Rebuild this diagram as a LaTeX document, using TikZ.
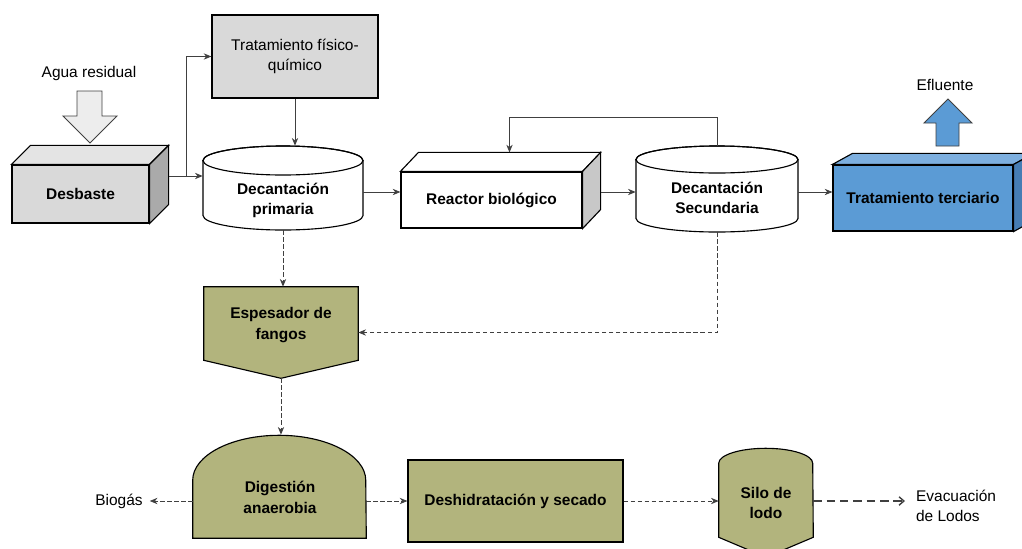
\documentclass[tikz,border=0pt]{standalone}
\usepackage{fontspec}
\setmainfont{Liberation Sans}
\usetikzlibrary{arrows.meta, calc}
\definecolor{linegray}{RGB}{64, 64, 64}
\definecolor{grayfront}{RGB}{217, 217, 217}
\definecolor{graytop}{RGB}{228, 228, 228}
\definecolor{grayside}{RGB}{170, 170, 170}
\definecolor{whiteside}{RGB}{200, 200, 200}
\definecolor{arrowgray}{RGB}{237, 237, 237}
\definecolor{bluefront}{RGB}{91, 155, 213}
\definecolor{bluetop}{RGB}{125, 175, 223}
\definecolor{blueside}{RGB}{70, 125, 180}
\definecolor{sludgegreen}{RGB}{178, 180, 125}

\begin{document}
\begin{tikzpicture}[x=0.025cm, y=-0.025cm,
  txt/.style={font=\fontsize{11}{14.5}\selectfont, align=center, inner sep=2pt},
  boldtxt/.style={txt, font=\fontsize{11}{14.5}\selectfont\bfseries},
  face/.style={draw=black, line width=0.8pt},
  flow/.style={-{Stealth[length=5.5pt, width=4.5pt]}, draw=linegray, line width=0.6pt},
  sludge/.style={flow, dash pattern=on 3pt off 2pt},
  evacline/.style={-{Straight Barb[length=3.5pt, width=6pt]}, draw=linegray, line width=1pt, dash pattern=on 6pt off 3.5pt}]
  \useasboundingbox (0,0) rectangle (1022,548);

  % Entrada de agua
  \node[txt] (agua) at (89,73) {Agua residual};
  \filldraw[fill=arrowgray, draw=linegray, line width=0.7pt] (77,91) -- (102,91) -- (102,116) -- (117,116) -- (90,143) -- (63,116) -- (77,116) -- cycle;

  % Desbaste
  \node[boldtxt, face, fill=grayfront, minimum width=3.425cm, minimum height=1.45cm] (desbaste) at (80.5,194) {Desbaste};
  \filldraw[face, fill=graytop] (desbaste.north west) -- ++(19,-19) -- ([shift={(19,-19)}]desbaste.north east) -- (desbaste.north east) -- cycle;
  \filldraw[face, fill=grayside] (desbaste.north east) -- ++(19,-19) -- ([shift={(19,-19)}]desbaste.south east) -- (desbaste.south east) -- cycle;

  % Tratamiento fisico-quimico
  \node[txt, face, fill=grayfront, minimum width=4.15cm, minimum height=2.075cm] (fisico) at (295,56.5) {Tratamiento físico-\\químico};

  % Decantacion primaria
  \filldraw[face, fill=white] (203,160.5) -- (203,215.5) arc[start angle=180, end angle=360, x radius=2cm, y radius=0.3625cm] -- (363,160.5) arc[start angle=0, end angle=180, x radius=2cm, y radius=0.3625cm] -- cycle;
  \draw[face] (283,160.5) ellipse[x radius=2cm, y radius=0.3625cm];
  \node[minimum width=4cm, minimum height=2.1cm, inner sep=0pt] (prim) at (283,188) {};
  \node[boldtxt] (primtxt) at (283,200.5) {Decantación\\primaria};

  % Reactor biologico
  \node[boldtxt, face, fill=white, minimum width=4.525cm, minimum height=1.4cm] (reactor) at (491.5,200) {Reactor biológico};
  \filldraw[face, fill=white] (reactor.north west) -- ++(18,-19) -- ([shift={(18,-19)}]reactor.north east) -- (reactor.north east) -- cycle;
  \filldraw[face, fill=whiteside] (reactor.north east) -- ++(18,-19) -- ([shift={(18,-19)}]reactor.south east) -- (reactor.south east) -- cycle;

  % Decantacion secundaria
  \filldraw[face, fill=white] (636,159.5) -- (636,218.5) arc[start angle=180, end angle=360, x radius=2.025cm, y radius=0.3375cm] -- (798,159.5) arc[start angle=0, end angle=180, x radius=2.025cm, y radius=0.3375cm] -- cycle;
  \draw[face] (717,159.5) ellipse[x radius=2.025cm, y radius=0.3375cm];
  \node[minimum width=4.05cm, minimum height=2.15cm, inner sep=0pt] (secund) at (717,189) {};
  \node[boldtxt] (secundtxt) at (717,198) {Decantación\\Secundaria};

  % Tratamiento terciario
  \node[boldtxt, face, fill=bluefront, minimum width=4.5cm, minimum height=1.65cm] (terciario) at (923,198) {Tratamiento terciario};
  \filldraw[face, fill=bluetop] (terciario.north west) -- ++(20,-11) -- ([shift={(20,-11)}]terciario.north east) -- (terciario.north east) -- cycle;
  \filldraw[face, fill=blueside] (terciario.north east) -- ++(20,-11) -- ([shift={(20,-11)}]terciario.south east) -- (terciario.south east) -- cycle;

  % Efluente
  \node[txt] (efluente) at (945,85) {Efluente};
  \filldraw[fill=bluefront, draw=linegray, line width=0.7pt] (936,146) -- (936,123) -- (924,123) -- (948,99) -- (972,123) -- (959,123) -- (959,146) -- cycle;

  % Linea de agua
  \coordinate (split) at (186,176);
  \coordinate (mainline) at (0,192);
  \draw[flow] ($(desbaste.east |- split)+(19,0)$) -- (split -| prim.west);
  \draw[flow] (split) |- (fisico.west);
  \draw[flow] (fisico.south) -- (fisico.south |- prim.north);
  \draw[flow] (prim.east |- mainline) -- (reactor.west |- mainline);
  \draw[flow] ($(reactor.east |- mainline)+(18,0)$) -- (secund.west |- mainline);
  \draw[flow] (secund.east |- mainline) -- (terciario.west |- mainline);
  \draw[flow] (secund.north) -- ++(0,-28) -| ($(reactor.north)+(18,-19)$);

  % Espesador de fangos
  \node[minimum width=3.85cm, minimum height=2.275cm, inner sep=0pt] (espesador) at (281,332.5) {};
  \filldraw[face, fill=sludgegreen] (espesador.north west) -- (espesador.north east) -- ($(espesador.south east)+(0,-18)$) -- (espesador.south) -- ($(espesador.south west)+(0,-18)$) -- cycle;
  \node[boldtxt] (espesadortxt) at (281,325) {Espesador de\\fangos};

  % Digestion anaerobia
  \node[minimum width=4.325cm, minimum height=2.575cm, inner sep=0pt] (digestion) at (279.5,486.5) {};
  \filldraw[face, fill=sludgegreen] (digestion.south west) -- ($(digestion.south west)+(0,-58)$) arc[start angle=180, end angle=0, x radius=2.1625cm, y radius=1.125cm] -- (digestion.south east) -- cycle;
  \node[boldtxt] (digestiontxt) at (280,497.5) {Digestión\\anaerobia};
  \node[txt] (biogas) at (119,501) {Biogás};

  % Deshidratacion y secado
  \node[boldtxt, face, fill=sludgegreen, minimum width=5.375cm, minimum height=2.05cm] (deshid) at (515.5,501) {Deshidratación y secado};

  % Silo de lodo
  \node[minimum width=2.35cm, minimum height=2.225cm, inner sep=0pt] (silo) at (766,492.5) {};
  \filldraw[face, fill=sludgegreen] (silo.south west) -- ($(silo.south west)+(0,-74)$) arc[start angle=180, end angle=0, x radius=1.175cm, y radius=0.375cm] -- (silo.south east) -- ($(silo.south)+(0,20)$) -- cycle;
  \node[boldtxt] (silotxt) at (766,503) {Silo de\\lodo};
  \node[txt, anchor=west, align=left] (evac) at (913,506) {Evacuación\\de Lodos};

  % Linea de fangos
  \draw[sludge] (prim.south) -- (prim.south |- espesador.north);
  \draw[sludge] (secund.south) |- (espesador.east);
  \draw[sludge] (espesador.south) -- (espesador.south |- digestion.north);
  \draw[sludge, shorten >=0.1cm] (digestion.west |- biogas) -- (biogas.east);
  \draw[sludge] (digestion.east |- deshid) -- (deshid.west);
  \draw[sludge] (deshid.east) -- (silo.west |- deshid);
  \draw[evacline, shorten >=0.2cm] (silo.east |- deshid) -- (evac.west |- deshid);
\end{tikzpicture}
\end{document}
